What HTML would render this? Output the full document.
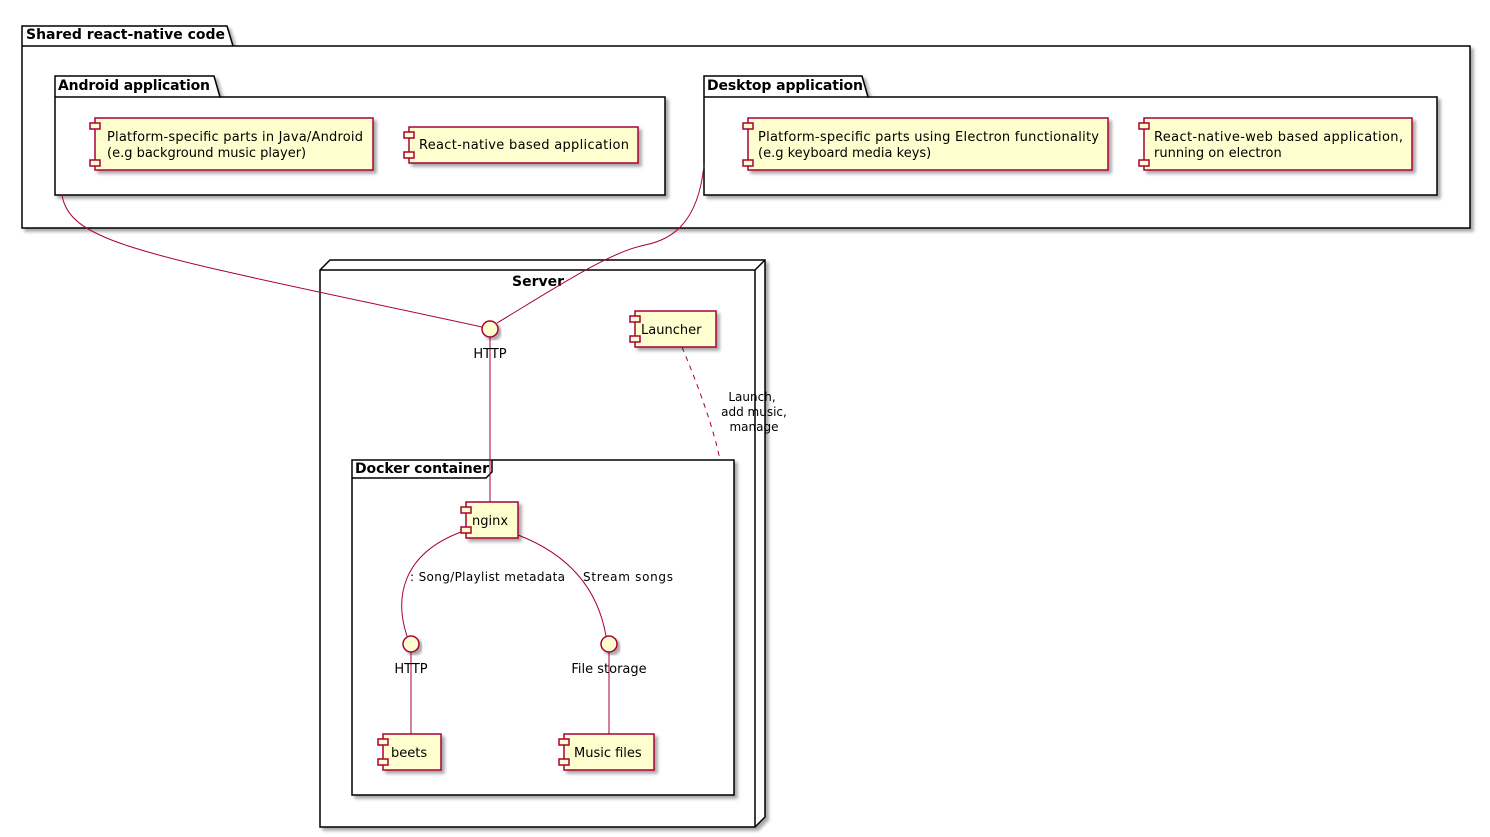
<!DOCTYPE html>
<html><head><meta charset="utf-8"><style>
html,body{margin:0;padding:0;background:#fff;}
svg{display:block;}
text{font-family:"DejaVu Sans","Liberation Sans",sans-serif;font-size:13px;fill:#000;}
.b{font-weight:bold;font-size:14px;}
.c{fill:#FEFECE;stroke:#A80036;stroke-width:1.5;}
.p{fill:#fff;stroke:#000;stroke-width:1.5;}
.l{fill:none;stroke:#A80036;stroke-width:1;}
</style></head><body>
<svg width="1490" height="837" viewBox="0 0 1490 837">
<defs><filter id="s" x="-10%" y="-10%" width="130%" height="130%"><feGaussianBlur in="SourceAlpha" stdDeviation="1.5"/><feOffset dx="3" dy="3"/><feComponentTransfer><feFuncA type="linear" slope="0.35"/></feComponentTransfer><feMerge><feMergeNode/><feMergeNode in="SourceGraphic"/></feMerge></filter></defs>

<g filter="url(#s)">
<path class="p" d="M22,26 H227 L233,46 H1470 V228 H22 Z"/>
</g>
<line x1="22" y1="46" x2="233" y2="46" stroke="#000" stroke-width="1.5"/>
<text x="26" y="39" class="b" textLength="199">Shared react-native code</text>

<g filter="url(#s)"><path class="p" d="M55,76 H214 L220,97 H665 V195 H55 Z"/></g>
<line x1="55" y1="97" x2="220" y2="97" stroke="#000" stroke-width="1.5"/>
<text x="58" y="90" class="b" textLength="152">Android application</text>
<g filter="url(#s)"><rect class="c" x="95" y="118" width="278" height="52"/></g>
<rect class="c" x="90" y="123" width="10" height="6"/><rect class="c" x="90" y="160" width="10" height="6"/>
<text x="107" y="141" textLength="256">Platform-specific parts in Java/Android</text>
<text x="107" y="157">(e.g background music player)</text>
<g filter="url(#s)"><rect class="c" x="409" y="127" width="229" height="36"/></g>
<rect class="c" x="404" y="132" width="10" height="6"/><rect class="c" x="404" y="152" width="10" height="6"/>
<text x="419" y="149" textLength="210">React-native based application</text>

<g filter="url(#s)"><path class="p" d="M704,76 H862 L868,97 H1437 V195 H704 Z"/></g>
<line x1="704" y1="97" x2="868" y2="97" stroke="#000" stroke-width="1.5"/>
<text x="707" y="90" class="b" textLength="156">Desktop application</text>
<g filter="url(#s)"><rect class="c" x="748" y="118" width="360" height="52"/></g>
<rect class="c" x="743" y="123" width="10" height="6"/><rect class="c" x="743" y="160" width="10" height="6"/>
<text x="758" y="141" textLength="341">Platform-specific parts using Electron functionality</text>
<text x="758" y="157">(e.g keyboard media keys)</text>
<g filter="url(#s)"><rect class="c" x="1144" y="118" width="268" height="52"/></g>
<rect class="c" x="1139" y="123" width="10" height="6"/><rect class="c" x="1139" y="160" width="10" height="6"/>
<text x="1154" y="141" textLength="249">React-native-web based application,</text>
<text x="1154" y="157">running on electron</text>

<g filter="url(#s)">
<path class="p" d="M320,270 L330,260 H765 V817 L755,827 H320 Z"/>
</g>
<path d="M320,270 H755 V827 M755,270 L765,260" fill="none" stroke="#000" stroke-width="1.5"/>
<text x="538" y="286" class="b" text-anchor="middle">Server</text>

<g filter="url(#s)"><rect class="p" x="352" y="460" width="382" height="335"/></g>
<path d="M352,478 H486 L492,472 V460" fill="none" stroke="#000" stroke-width="1.5"/>
<text x="355" y="473" class="b" textLength="134">Docker container</text>

<path class="l" d="M62,195 C70,245 150,255 482,327"/>
<path class="l" d="M704,165 C698,225 670,240 645,245 C610,252 560,285 497,323"/>
<line class="l" x1="490" y1="337" x2="490" y2="502"/>
<path class="l" d="M682,347 C700,390 714,430 720,460" stroke-dasharray="5,5"/>
<path class="l" d="M461,532 C400,555 395,600 407,636"/>
<path class="l" d="M518,535 C570,555 598,590 606,636"/>
<line class="l" x1="411" y1="652" x2="411" y2="734"/>
<line class="l" x1="609" y1="652" x2="609" y2="734"/>

<g filter="url(#s)"><circle class="c" cx="490" cy="329" r="8"/></g>
<text x="490" y="358" text-anchor="middle">HTTP</text>
<g filter="url(#s)"><circle class="c" cx="411" cy="644" r="8"/></g>
<text x="411" y="673" text-anchor="middle">HTTP</text>
<g filter="url(#s)"><circle class="c" cx="609" cy="644" r="8"/></g>
<text x="609" y="673" text-anchor="middle">File storage</text>

<g filter="url(#s)"><rect class="c" x="635" y="311" width="81" height="36"/></g>
<rect class="c" x="630" y="316" width="10" height="6"/><rect class="c" x="630" y="336" width="10" height="6"/>
<text x="641" y="334">Launcher</text>
<g filter="url(#s)"><rect class="c" x="466" y="502" width="52" height="36"/></g>
<rect class="c" x="461" y="507" width="10" height="6"/><rect class="c" x="461" y="527" width="10" height="6"/>
<text x="472" y="525">nginx</text>
<g filter="url(#s)"><rect class="c" x="383" y="734" width="58" height="36"/></g>
<rect class="c" x="378" y="739" width="10" height="6"/><rect class="c" x="378" y="759" width="10" height="6"/>
<text x="391" y="757">beets</text>
<g filter="url(#s)"><rect class="c" x="564" y="734" width="90" height="36"/></g>
<rect class="c" x="559" y="739" width="10" height="6"/><rect class="c" x="559" y="759" width="10" height="6"/>
<text x="574" y="757">Music files</text>

<text x="410" y="581" style="font-size:12px" textLength="155">: Song/Playlist metadata</text>
<text x="583" y="581" style="font-size:12px" textLength="90">Stream songs</text>
<text x="752" y="401" text-anchor="middle" style="font-size:12px">Launch,</text>
<text x="754" y="416" text-anchor="middle" style="font-size:12px">add music,</text>
<text x="754" y="431" text-anchor="middle" style="font-size:12px">manage</text>
</svg>
</body></html>
